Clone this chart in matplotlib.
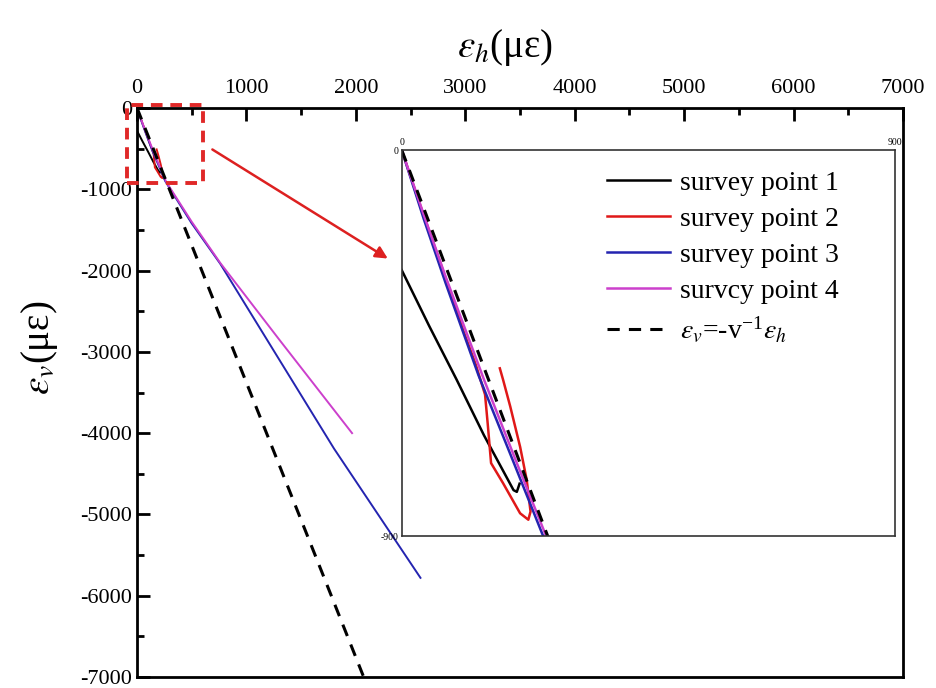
import matplotlib
matplotlib.use('Agg')
import matplotlib.pyplot as plt
from matplotlib.patches import Rectangle

plt.rcParams['font.family'] = ['Liberation Serif', 'DejaVu Serif']
plt.rcParams['mathtext.fontset'] = 'stix'
plt.rcParams['axes.unicode_minus'] = False

# survey point curves (eps_h, eps_v)
p1_h = [0, 50, 100, 150, 204, 210, 215]
p1_v = [-280, -410, -535, -665, -793, -797, -778]

p2_h = [0, 30, 60, 90, 112, 135, 152, 157, 163, 185, 216, 231, 235, 228, 216, 198, 185, 179]
p2_v = [0, -115, -225, -335, -420, -500, -570, -640, -730, -777, -847, -862, -843, -769, -692, -598, -536, -509]

p3_h = [0, 40, 80, 140, 200, 258, 500, 760, 1800, 2590]
p3_v = [0, -160, -310, -525, -715, -900, -1420, -1915, -4190, -5780]

p4_h = [0, 40, 80, 150, 210, 265, 500, 760, 1300, 1965]
p4_v = [0, -150, -295, -535, -730, -905, -1400, -1905, -2850, -4000]

inv_nu = 3.38
ref_h = [0, 7000 / inv_nu]
ref_v = [0, -7000]

labels = ['survey point 1', 'survey point 2', 'survey point 3', 'survcy point 4',
          r'$\varepsilon_v$=-v$^{\mathregular{-1}}$$\varepsilon_h$']
colours = ['black', '#e01818', '#2424b0', '#cc40cc']

fig = plt.figure(figsize=(9.36, 6.88), dpi=100)
ax = fig.add_axes([0.1464, 0.016, 0.8184, 0.827])


def draw(a, lw):
    a.plot(p1_h, p1_v, color=colours[0], lw=lw, label=labels[0])
    a.plot(p2_h, p2_v, color=colours[1], lw=lw, label=labels[1])
    a.plot(p3_h, p3_v, color=colours[2], lw=lw, label=labels[2])
    a.plot(p4_h, p4_v, color=colours[3], lw=lw, label=labels[3])
    a.plot(ref_h, ref_v, color='black', lw=2.2, ls=(0, (4, 3)), label=labels[4])


draw(ax, 1.4)
ax.set_xlim(0, 7000)
ax.set_ylim(-7000, 0)
ax.set_xticks(range(0, 7001, 1000))
ax.set_xticks(range(0, 7001, 500), minor=True)
ax.set_yticks(range(-7000, 1, 1000))
ax.set_yticks(range(-7000, 1, 500), minor=True)
ax.xaxis.tick_top()
ax.tick_params(which='both', direction='in', labelsize=16, width=2)
ax.tick_params(which='major', length=9)
ax.tick_params(which='minor', length=5)
ax.tick_params(axis='x', pad=7)
for s in ax.spines.values():
    s.set_linewidth(2)

ax.xaxis.set_label_position('top')
ax.set_xlabel(r'$\varepsilon_h$(με)', fontsize=28)
ax.xaxis.set_label_coords(0.48, 1.09)
ax.set_ylabel(r'$\varepsilon_v$(με)', fontsize=28)
ax.yaxis.set_label_coords(-0.1, 0.578)

# zoom box and arrow
ax.add_patch(Rectangle((-90, -920), 690, 955, fill=False, ec='#e02828',
                       lw=2.8, ls=(0, (3, 2)), clip_on=False, zorder=5))
ax.annotate('', xy=(2313, -1870), xytext=(667, -492),
            arrowprops=dict(arrowstyle='-|>', color='#dd2020', lw=1.8,
                            mutation_scale=18))

# inset
ins = fig.add_axes([0.4292, 0.2209, 0.527, 0.561])
draw(ins, 1.8)
ins.set_xlim(0, 900)
ins.set_ylim(-900, 0)
ins.set_xticks([0, 900])
ins.set_yticks([-900, 0])
ins.xaxis.tick_top()
ins.tick_params(length=0, labelsize=7, pad=2)
for s in ins.spines.values():
    s.set_linewidth(1.2)
    s.set_color('#333333')

ins.legend(loc='upper left', frameon=False, fontsize=20, handlelength=2.27,
           handletextpad=0.36, labelspacing=0.38, borderaxespad=0, borderpad=0,
           bbox_to_anchor=(0.416, 0.948))

fig.savefig('out.png', dpi=100)
